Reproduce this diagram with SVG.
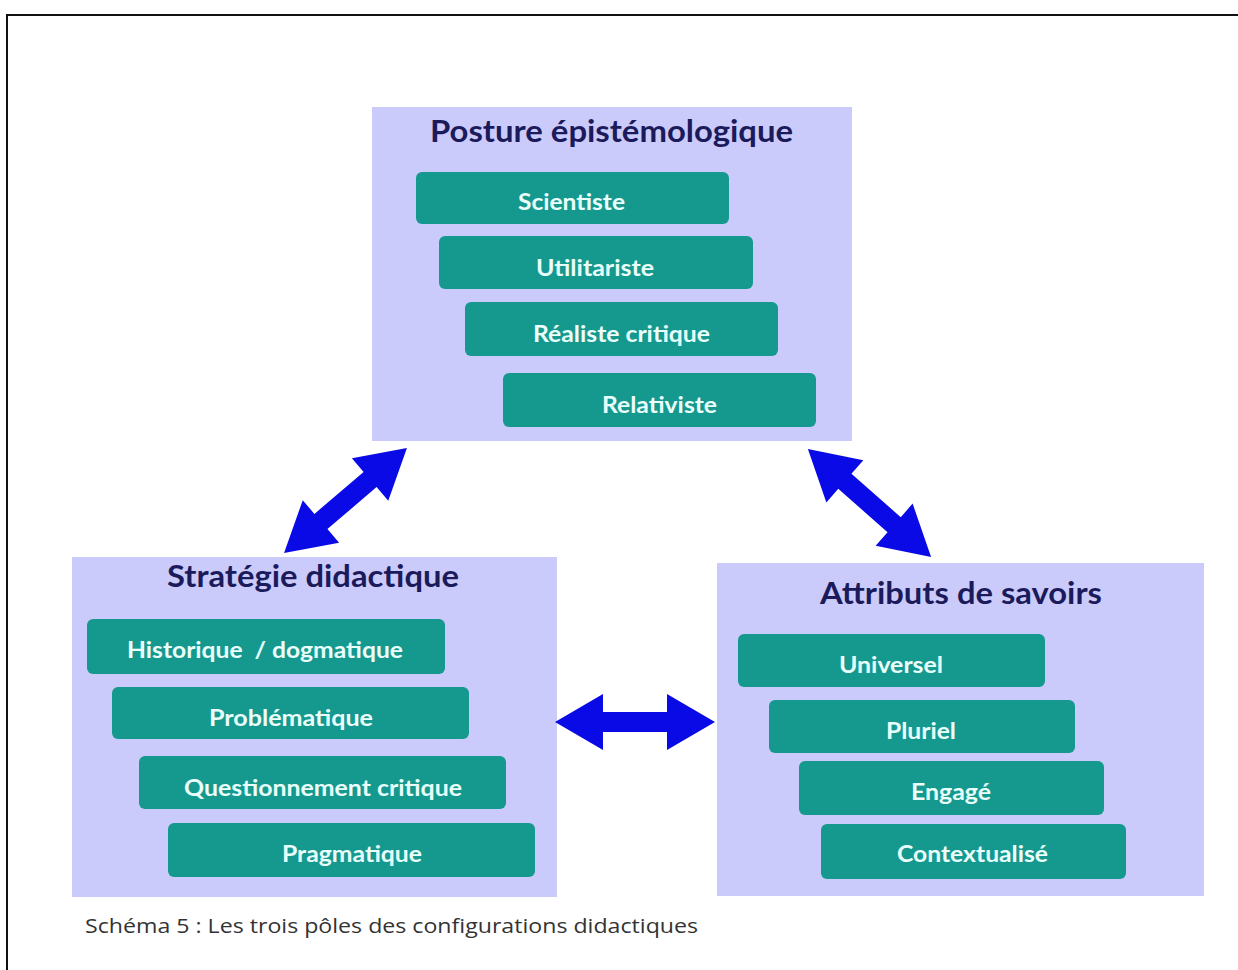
<svg xmlns="http://www.w3.org/2000/svg" xmlns:xlink="http://www.w3.org/1999/xlink" width="1238" height="970" viewBox="0 0 1238 970">
<style>
.panel{fill:#cbcbfb}
.item{fill:#15998f}
.title{font-family:Lato,"Open Sans","Liberation Sans",sans-serif;font-weight:bold;font-size:30px;fill:#1b1b5c}
.lbl{font-family:Lato,"Open Sans","Liberation Sans",sans-serif;font-weight:bold;font-size:22px;fill:#eafffb}
.cap{font-family:"Open Sans","Liberation Sans",sans-serif;font-size:20px;fill:#333333}
.arrow{fill:#0a0ae6}
</style>
<defs>
<polygon id="dbl" points="-80,0 -32,-28 -32,-10 32,-10 32,-28 80,0 32,28 32,10 -32,10 -32,28"/>
</defs>
<rect x="0" y="0" width="1238" height="970" fill="#ffffff"/>
<rect x="7" y="15" width="1260" height="980" fill="none" stroke="#111111" stroke-width="2"/>

<g id="posture">
<rect class="panel" x="372" y="107" width="480" height="334"/>
<text class="title" x="430" y="142" textLength="363" lengthAdjust="spacingAndGlyphs">Posture épistémologique</text>
<rect class="item" x="416" y="172" width="313" height="52" rx="6"/>
<text class="lbl" x="518" y="210" textLength="107" lengthAdjust="spacingAndGlyphs">Scientiste</text>
<rect class="item" x="439" y="236" width="314" height="53" rx="6"/>
<text class="lbl" x="536" y="276" textLength="118" lengthAdjust="spacingAndGlyphs">Utilitariste</text>
<rect class="item" x="465" y="302" width="313" height="54" rx="6"/>
<text class="lbl" x="533" y="342" textLength="177" lengthAdjust="spacingAndGlyphs">Réaliste critique</text>
<rect class="item" x="503" y="373" width="313" height="54" rx="6"/>
<text class="lbl" x="602" y="413" textLength="115" lengthAdjust="spacingAndGlyphs">Relativiste</text>
</g>

<g id="strategie">
<rect class="panel" x="72" y="557" width="485" height="340"/>
<text class="title" x="167" y="587" textLength="292" lengthAdjust="spacingAndGlyphs">Stratégie didactique</text>
<rect class="item" x="87" y="619" width="358" height="55" rx="6"/>
<text class="lbl" x="127" y="658" textLength="276" lengthAdjust="spacingAndGlyphs" xml:space="preserve">Historique  / dogmatique</text>
<rect class="item" x="112" y="687" width="357" height="52" rx="6"/>
<text class="lbl" x="209" y="726" textLength="164" lengthAdjust="spacingAndGlyphs">Problématique</text>
<rect class="item" x="139" y="756" width="367" height="53" rx="6"/>
<text class="lbl" x="184" y="796" textLength="278" lengthAdjust="spacingAndGlyphs">Questionnement critique</text>
<rect class="item" x="168" y="823" width="367" height="54" rx="6"/>
<text class="lbl" x="282" y="862" textLength="140" lengthAdjust="spacingAndGlyphs">Pragmatique</text>
</g>

<g id="attributs">
<rect class="panel" x="717" y="563" width="487" height="333"/>
<text class="title" x="820" y="604" textLength="282" lengthAdjust="spacingAndGlyphs">Attributs de savoirs</text>
<rect class="item" x="738" y="634" width="307" height="53" rx="6"/>
<text class="lbl" x="839" y="673" textLength="104" lengthAdjust="spacingAndGlyphs">Universel</text>
<rect class="item" x="769" y="700" width="306" height="53" rx="6"/>
<text class="lbl" x="886" y="739" textLength="70" lengthAdjust="spacingAndGlyphs">Pluriel</text>
<rect class="item" x="799" y="761" width="305" height="54" rx="6"/>
<text class="lbl" x="911" y="800" textLength="80" lengthAdjust="spacingAndGlyphs">Engagé</text>
<rect class="item" x="821" y="824" width="305" height="55" rx="6"/>
<text class="lbl" x="897" y="862" textLength="151" lengthAdjust="spacingAndGlyphs">Contextualisé</text>
</g>

<g id="connectors">
<use class="arrow" href="#dbl" transform="translate(345.5,500.5) rotate(-40.5) scale(1.01,1)"/>
<use class="arrow" href="#dbl" transform="translate(869.5,503) rotate(41.3) scale(1.025,1)"/>
<use class="arrow" href="#dbl" transform="translate(635,722)"/>
</g>

<text id="caption" class="cap" x="85" y="933" textLength="613" lengthAdjust="spacingAndGlyphs">Schéma 5 : Les trois pôles des configurations didactiques</text>
</svg>
